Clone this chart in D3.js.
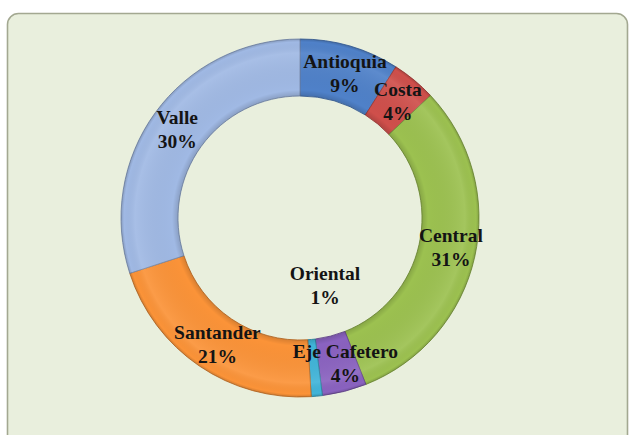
<!DOCTYPE html>
<html>
<head>
<meta charset="utf-8">
<script src="https://cdn.jsdelivr.net/npm/d3@7"></script>
<style>
  html, body { margin: 0; padding: 0; background: #ffffff; }
  svg { display: block; }
</style>
</head>
<body>
<svg id="chart" width="630" height="435"></svg>
<script>
// Share of each region, in percent, clockwise from 12 o'clock
const regions = ["Antioquia", "Costa", "Central", "Eje Cafetero", "Oriental", "Santander", "Valle"];
const shares  = [9, 4, 31, 4, 1, 21, 30];
const colors  = ["#4f81c9", "#cf4f4b", "#9cc150", "#8a62c0", "#40b4d8", "#fb9338", "#a0b9e4"];

const cx = 300, cy = 218;
const outerR = 179, innerR = 122;

const svg = d3.select("#chart");
const defs = svg.append("defs");

// Chart area panel
svg.append("rect")
  .attr("x", 7.5).attr("y", 13.5)
  .attr("width", 620).attr("height", 440)
  .attr("rx", 11).attr("ry", 11)
  .attr("fill", "#e9efdd")
  .attr("stroke", "#a3a891")
  .attr("stroke-width", 1.6);

// Ring shading: darker rims, soft highlight towards the outer edge
const shade = defs.append("radialGradient")
  .attr("id", "ringShade")
  .attr("gradientUnits", "userSpaceOnUse")
  .attr("cx", 0).attr("cy", 0).attr("r", outerR);
[
  [innerR / outerR, "#000", 0.14],
  [(innerR + 6) / outerR, "#000", 0.0],
  [(outerR - 14) / outerR, "#fff", 0.08],
  [(outerR - 3) / outerR, "#000", 0.0],
  [1, "#000", 0.16]
].forEach(([o, c, a]) => shade.append("stop")
  .attr("offset", o).attr("stop-color", c).attr("stop-opacity", a));

const pie = d3.pie().sort(null).value(d => d.value);
const arc = d3.arc().innerRadius(innerR).outerRadius(outerR);
const data = regions.map((name, i) => ({ name, value: shares[i], color: colors[i] }));
const arcs = pie(data);

const g = svg.append("g").attr("transform", `translate(${cx},${cy})`);

g.selectAll("path.slice")
  .data(arcs)
  .join("path")
  .attr("class", "slice")
  .attr("d", arc)
  .attr("fill", d => d.data.color)
  .attr("stroke", d => d3.color(d.data.color).darker(0.8))
  .attr("stroke-width", 0.9);

// Shading overlay across the whole ring
g.append("path")
  .attr("d", d3.arc().innerRadius(innerR).outerRadius(outerR).startAngle(0).endAngle(2 * Math.PI)())
  .attr("fill", "url(#ringShade)")
  .style("pointer-events", "none");

// Labels at the ring centroid; the tiny Oriental slice is labelled inside the hole
const labelArc = d3.arc().innerRadius(innerR).outerRadius(outerR);
const labelShift = {
  "Antioquia": [3, 0],
  "Costa": [2, -1],
  "Central": [4, -4],
  "Eje Cafetero": [8, -1],
  "Santander": [2, 2],
  "Valle": [-1, -1]
};
const labels = g.selectAll("text.lbl")
  .data(arcs)
  .join("text")
  .attr("class", "lbl")
  .attr("transform", d => {
    let x, y;
    if (d.data.name === "Oriental") { x = 25; y = 67; }
    else {
      const c = labelArc.centroid(d);
      const s = labelShift[d.data.name] || [0, 0];
      x = c[0] + s[0]; y = c[1] + s[1];
    }
    return `translate(${x},${y})`;
  })
  .attr("text-anchor", "middle")
  .style("font-family", "'Liberation Serif', 'Times New Roman', serif")
  .style("font-weight", "bold")
  .style("font-size", "19.5px")
  .attr("fill", "#141414");

labels.append("tspan").attr("x", 0).attr("y", -5).text(d => d.data.name);
labels.append("tspan").attr("x", 0).attr("y", 19).text(d => d.data.value + "%");
</script>
</body>
</html>
